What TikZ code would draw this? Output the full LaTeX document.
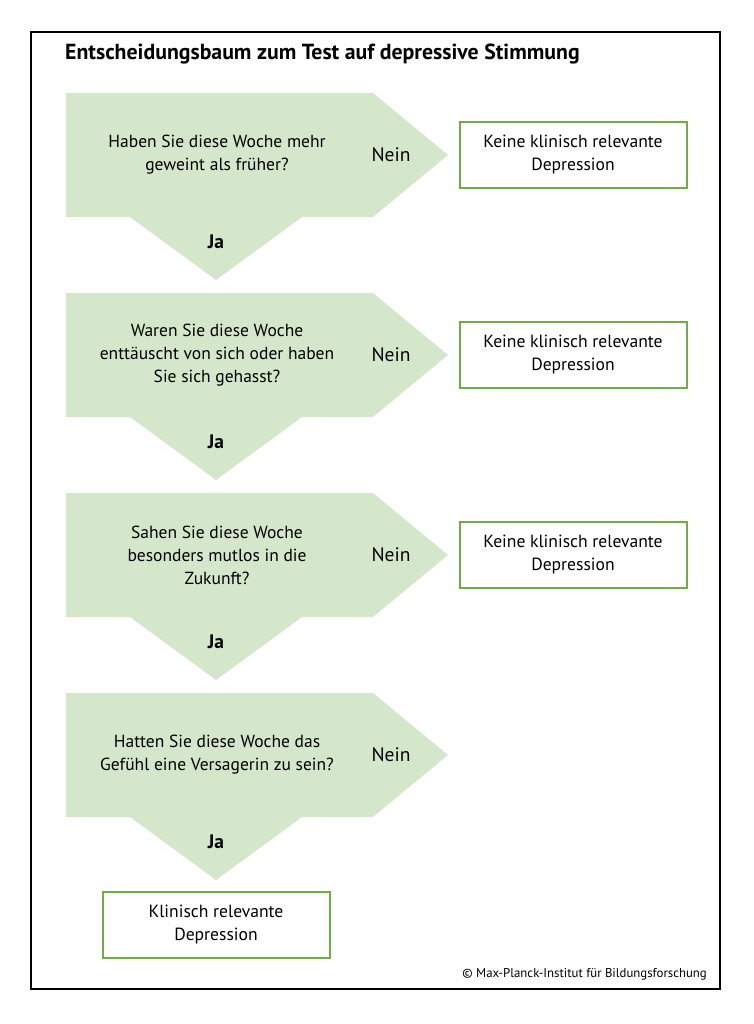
\documentclass[tikz,border=0pt]{standalone}
\usepackage{fontspec}
\setmainfont{PT Sans}
\usepackage{xcolor}
\definecolor{qfill}{RGB}{213,231,202}
\definecolor{boxgreen}{RGB}{112,173,71}
\newcommand{\tbf}[1]{\textbf{#1}}
\newcommand{\qshape}[1]{%
  \fill [qfill] (66,#1) -- (373,#1) -- (448,#1+62) -- (373,#1+124) -- (302,#1+124)
    -- (216,#1+187) -- (130,#1+124) -- (66,#1+124) -- cycle;}

\begin{document}
\begin{tikzpicture}[x=1pt, y=-1pt,
    question/.style={align=center, font=\fontsize{17.5}{23}\selectfont},
    answer/.style={font=\fontsize{19.5}{22}\selectfont},
    result/.style={draw=boxgreen, line width=2pt, minimum width=227pt,
      minimum height=66pt, align=center, font=\fontsize{17.6}{23}\selectfont}]
      \useasboundingbox (0,0) rectangle (753,1024);
      \draw [line width=2pt] (31,32) rectangle (720,989);
      \node [anchor=base west, inner xsep=0pt, font=\bfseries\fontsize{21.8}{25}\selectfont, name=title]
      at (65,60) {Entscheidungsbaum zum Test auf depressive Stimmung};

      \qshape{93}
      \node [question, name=q1] at (217,155) {Haben Sie diese Woche mehr\\geweint als früher?};
      \node [answer, name=nein1] at (391,155) {Nein};
      \node [answer, name=ja1] at (216,242) {\tbf{Ja}};
      \node [result, name=r1] at (573,155) {Keine klinisch relevante\\Depression};

      \qshape{293}
      \node [question, name=q2] at (217,355) {Waren Sie diese Woche\\enttäuscht von sich oder haben\\Sie sich gehasst?};
      \node [answer, name=nein2] at (391,355) {Nein};
      \node [answer, name=ja2] at (216,442) {\tbf{Ja}};
      \node [result, name=r2] at (573,355) {Keine klinisch relevante\\Depression};

      \qshape{493}
      \node [question, name=q3] at (217,555) {Sahen Sie diese Woche\\besonders mutlos in die\\Zukunft?};
      \node [answer, name=nein3] at (391,555) {Nein};
      \node [answer, name=ja3] at (216,642) {\tbf{Ja}};
      \node [result, name=r3] at (573,555) {Keine klinisch relevante\\Depression};

      \qshape{693}
      \node [question, name=q4] at (217,755) {Hatten Sie diese Woche das\\Gefühl eine Versagerin zu sein?};
      \node [answer, name=nein4] at (391,755) {Nein};
      \node [answer, name=ja4] at (216,842) {\tbf{Ja}};

      \node [result, name=end] at (216,925) {Klinisch relevante\\Depression};

      \node [anchor=base east, inner xsep=0pt, font=\fontsize{12.8}{14}\selectfont, name=copy]
      at (707,977) {© Max-Planck-Institut für Bildungsforschung};
    \end{tikzpicture}
\end{document}
